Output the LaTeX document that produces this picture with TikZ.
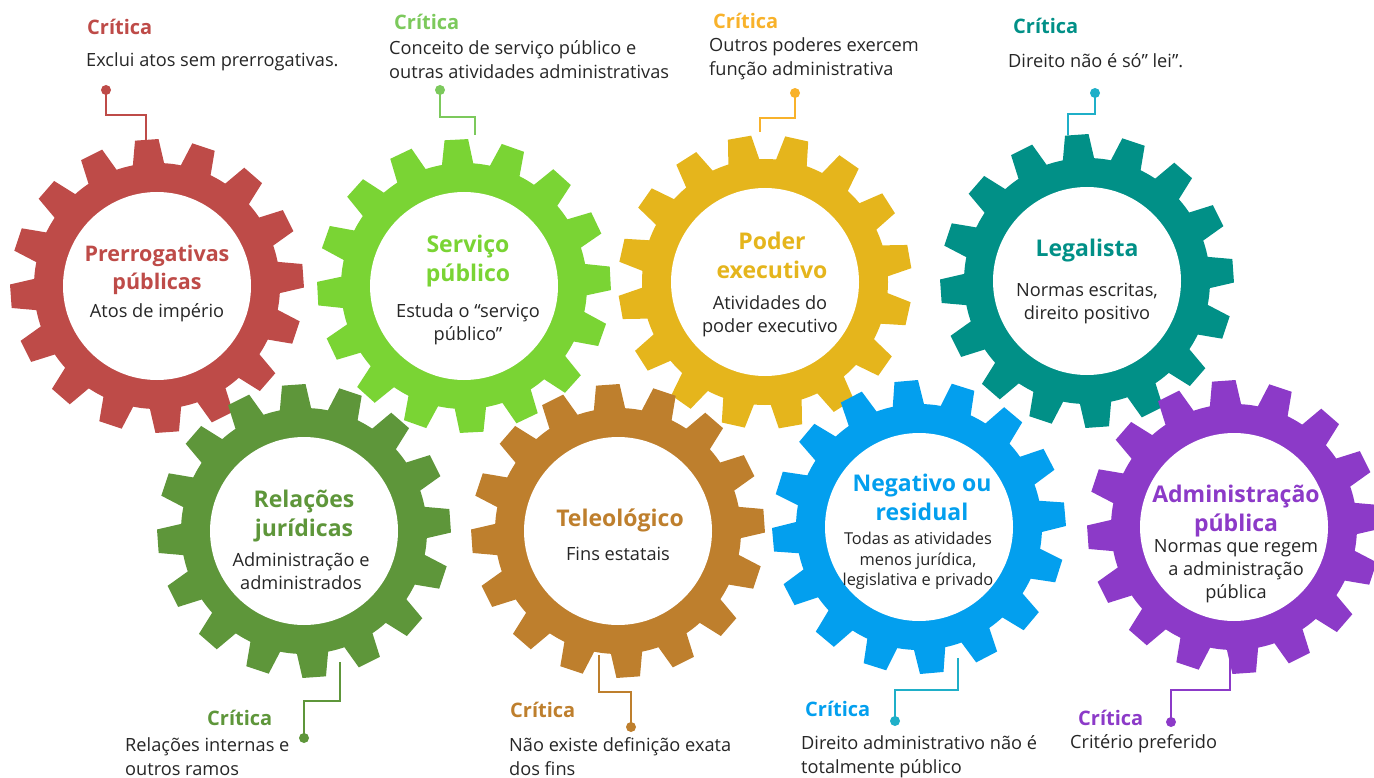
\documentclass[tikz,border=0pt]{standalone}
\usepackage{fontspec}
\setmainfont{Open Sans}
\usepackage{xcolor}
\usetikzlibrary{positioning}
\definecolor{cPR}{HTML}{BE4B48}
\definecolor{cSP}{HTML}{7AD434}
\definecolor{cPE}{HTML}{E5B51C}
\definecolor{cLE}{HTML}{019087}
\definecolor{cRJ}{HTML}{5E963A}
\definecolor{cTE}{HTML}{BE7F2D}
\definecolor{cNR}{HTML}{039FEE}
\definecolor{cAP}{HTML}{8C3AC8}
\definecolor{lSP}{HTML}{7CC95C}
\definecolor{lPE}{HTML}{F8B22B}
\definecolor{lLE}{HTML}{1FAFC8}
\definecolor{txt}{HTML}{262626}
\newcommand{\gear}[3]{
  \fill[#1] (#2) circle (123pt);
  \foreach \a in {0,22.5,...,337.5}
    \fill[#1, shift={(#2)}] ({\a+#3-7.6}:121pt) -- ({\a+#3-4.6}:147pt) -- ({\a+#3+4.6}:147pt) -- ({\a+#3+7.6}:121pt) -- cycle;
  \fill[white] (#2) circle (94pt);
}
\tikzset{
  title/.style={font=\fontsize{23}{29}\selectfont\bfseries, align=center, inner sep=0pt},
  sub/.style={font=\fontsize{18.2}{23}\selectfont, align=center, text=txt, inner sep=0pt},
  crit/.style={font=\fontsize{20}{24}\selectfont\bfseries, anchor=west, inner sep=0pt},
  note/.style={font=\fontsize{18.2}{24}\selectfont, align=left, text=txt, anchor=west, inner sep=0pt},
  lead/.style={line width=1.6pt},
}

\begin{document}
\begin{tikzpicture}[x=1pt, y=-1pt]
    \useasboundingbox (0,0) rectangle (1374,778);

    \coordinate (PR) at (157, 286);
    \coordinate (SP) at (464, 286);
    \coordinate (PE) at (765, 282);
    \coordinate (LE) at (1087, 281);
    \coordinate (RJ) at (304, 531);
    \coordinate (TE) at (618, 531);
    \coordinate (NR) at (919, 527);
    \coordinate (AP) at (1234, 527);

    \gear{cPR}{PR}{4}
    \gear{cSP}{SP}{3}
    \gear{cPE}{PE}{10}
    \gear{cLE}{LE}{4}
    \gear{cRJ}{RJ}{4}
    \gear{cTE}{TE}{4}
    \gear{cNR}{NR}{5}
    \gear{cAP}{AP}{4}

    \node[title, text=cPR, font=\fontsize{21.5}{28}\selectfont\bfseries] (PRt) at (157, 270) {Prerrogativas\\públicas};
    \node[sub] (PRs) at (157, 313) {Atos de império};
    \node[title, text=cSP] (SPt) at (468, 261) {Serviço\\público};
    \node[sub] (SPs) at (468, 324) {Estuda o “serviço\\público”};
    \node[title, text=cPE] (PEt) at (772, 255) {Poder\\executivo};
    \node[sub] (PEs) at (770, 316) {Atividades do\\poder executivo};
    \node[title, text=cLE] (LEt) at (1087, 251) {Legalista};
    \node[sub] (LEs) at (1087, 304) {Normas escritas,\\direito positivo};
    \node[title, text=cRJ] (RJt) at (304, 516) {Relações\\jurídicas};
    \node[sub] (RJs) at (301, 571) {Administração e\\administrados};
    \node[title, text=cTE] (TEt) at (620, 520) {Teleológico};
    \node[sub] (TEs) at (618, 554) {Fins estatais};
    \node[title, text=cNR] (NRt) at (922, 497) {Negativo ou\\residual};
    \node[sub, font=\fontsize{16.4}{20.5}\selectfont] (NRs) at (918, 561) {Todas as atividades\\menos jurídica,\\legislativa e privado};
    \node[title, text=cAP] (APt) at (1236, 511) {Administração\\pública};
    \node[sub] (APs) at (1236, 571) {Normas que regem\\a administração\\pública};

    \node[crit, text=cPR] (PRc) at (87, 27) {Crítica};
    \node[note] (PRn) at (86, 62) {Exclui atos sem prerrogativas.};
    \node[crit, text=lSP] (SPc) at (394, 22) {Crítica};
    \node[note] (SPn) at (389, 60) {Conceito de serviço público e\\outras atividades administrativas};
    \node[crit, text=lPE] (PEc) at (713, 21) {Crítica};
    \node[note] (PEn) at (709, 59) {Outros poderes exercem\\função administrativa};
    \node[crit, text=cLE] (LEc) at (1013, 26) {Crítica};
    \node[note] (LEn) at (1008, 61) {Direito não é só” lei”.};
    \node[crit, text=cRJ] (RJc) at (207, 718) {Crítica};
    \node[note] (RJn) at (125, 757) {Relações internas e\\outros ramos};
    \node[crit, text=cTE] (TEc) at (510, 710) {Crítica};
    \node[note] (TEn) at (509, 757) {Não existe definição exata\\dos fins};
    \node[crit, text=cNR] (NRc) at (805, 709) {Crítica};
    \node[note] (NRn) at (801, 757) {Direito administrativo não é\\totalmente público};
    \node[crit, text=cAP] (APc) at (1078, 718) {Crítica};
    \node[note] (APn) at (1070, 744) {Critério preferido};

    \coordinate (PRdot) at (106, 90);
    \coordinate (PRend) at (146, 150);
    \coordinate (SPdot) at (440, 90);
    \coordinate (SPend) at (475, 135);
    \coordinate (PEdot) at (795, 93);
    \coordinate (PEend) at (760, 132);
    \coordinate (LEdot) at (1095, 93);
    \coordinate (LEend) at (1068, 135);
    \coordinate (RJdot) at (304, 738);
    \coordinate (RJend) at (340, 662);
    \coordinate (TEdot) at (631, 727);
    \coordinate (TEend) at (599, 655);
    \coordinate (NRdot) at (895, 721);
    \coordinate (NRend) at (958, 658);
    \coordinate (APdot) at (1171, 722);
    \coordinate (APend) at (1230, 660);

    \draw[lead, cPR] (PRdot) -- ++(0, 25) -| (PRend);
    \draw[lead, lSP] (SPdot) -- ++(0, 27) -| (SPend);
    \draw[lead, lPE] (PEdot) -- ++(0, 25) -| (PEend);
    \draw[lead, lLE] (LEdot) -- ++(0, 21) -| (LEend);
    \draw[lead, cRJ] (RJdot) -- ++(0, -37) -| (RJend);
    \draw[lead, cTE] (TEdot) -- ++(0, -35) -| (TEend);
    \draw[lead, lLE] (NRdot) -- ++(0, -31) -| (NRend);
    \draw[lead, cAP] (APdot) -- ++(0, -32) -| (APend);

    \fill[cPR] (PRdot) circle (5pt);
    \fill[lSP] (SPdot) circle (5pt);
    \fill[lPE] (PEdot) circle (5pt);
    \fill[lLE] (LEdot) circle (5pt);
    \fill[cRJ] (RJdot) circle (5pt);
    \fill[cTE] (TEdot) circle (5pt);
    \fill[lLE] (NRdot) circle (5pt);
    \fill[cAP] (APdot) circle (5pt);
\end{tikzpicture}
\end{document}
